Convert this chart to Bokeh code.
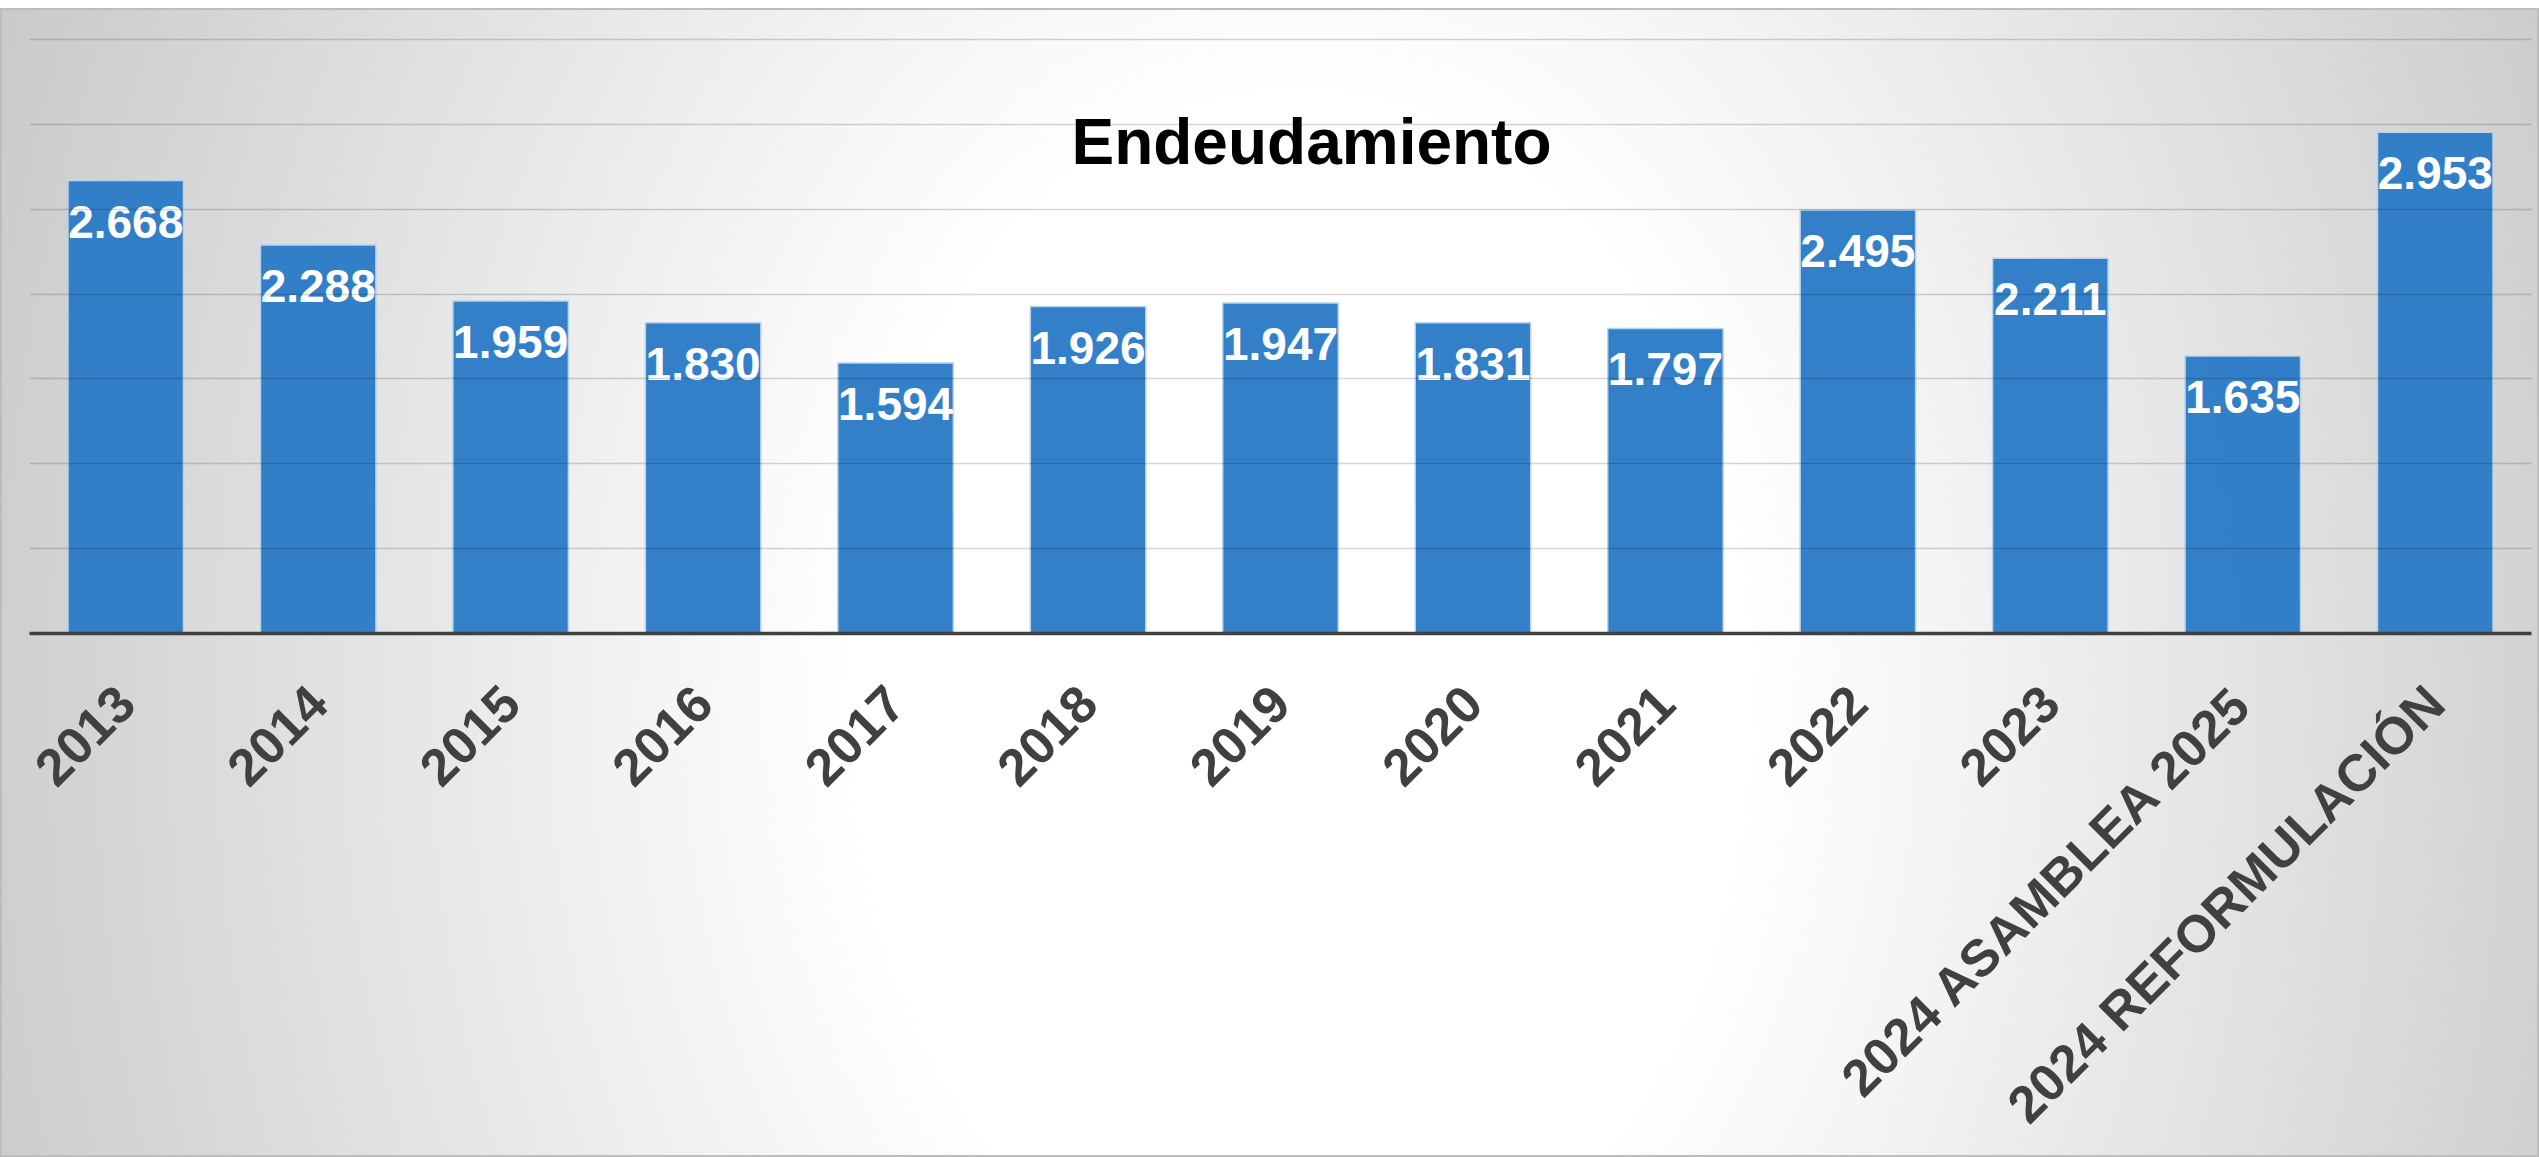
import math
from bokeh.plotting import figure
from bokeh.models import Range1d, Grid, FixedTicker, ColumnDataSource
from bokeh.core.properties import value
from bokeh.embed import file_html
from bokeh.resources import INLINE

# ---- data ----
categories = ["2013", "2014", "2015", "2016", "2017", "2018", "2019", "2020",
              "2021", "2022", "2023", "2024 ASAMBLEA 2025", "2024 REFORMULACIÓN"]
endeudamiento = [2.668, 2.288, 1.959, 1.830, 1.594, 1.926, 1.947, 1.831,
                 1.797, 2.495, 2.211, 1.635, 2.953]
labels = ["{:.3f}".format(v) for v in endeudamiento]
grid_levels = [0.5, 1.0, 1.5, 2.0, 2.5, 3.0, 3.5]
title_text = "Endeudamiento"

FONT = "Liberation Sans"

p = figure(
    x_range=categories,
    y_range=Range1d(0, 3.676),
    width=2539, height=1149,
    output_backend="svg", toolbar_location=None,
    y_axis_location=None,
    min_border_left=29, min_border_right=8,
    min_border_top=1, min_border_bottom=523,
)
p.styles = {
    "position": "absolute",
    "left": "0px",
    "top": "8px",
    "background": "radial-gradient(ellipse 1500px 2000px at 1300px 692px, #ffffff 0%, #ffffff 30%, #c4c4c4 100%)",
    "box-shadow": "inset 0 0 0 2px #bdbdbd",
}
p.border_fill_alpha = 0
p.background_fill_alpha = 0
p.outline_line_color = None
p.title.text = ""

for g in p.xgrid:
    g.visible = False
for g in p.ygrid:
    g.visible = False

src = ColumnDataSource(dict(cat=categories, val=endeudamiento, lab=labels))

bars = p.vbar(x="cat", top="val", width=0.6, source=src,
              fill_color="#2C7CC6", fill_alpha=0.97,
              line_color="#b8d3ee", line_width=1.5, level="underlay")

grid = Grid(dimension=1, ticker=FixedTicker(ticks=grid_levels),
            grid_line_color="black", grid_line_alpha=0.16, grid_line_width=1.5,
            level="glyph")
p.add_layout(grid)

p.text(x="cat", y="val", text="lab", source=src,
       text_color="white", text_font=value(FONT), text_font_style="bold",
       text_font_size="46px", text_align="center", text_baseline="middle",
       y_offset=41)

p.text(x=["2019"], y=[2.894], text=[title_text], x_offset=31,
       text_color="black", text_font=value(FONT), text_font_style="bold",
       text_font_size="64px", text_align="center", text_baseline="middle")

ax = p.xaxis[0]
ax.axis_line_color = "#404040"
ax.axis_line_width = 3.5
ax.major_tick_line_color = None
ax.minor_tick_line_color = None
ax.major_tick_out = 0
ax.major_tick_in = 0
ax.major_label_orientation = math.pi / 4
ax.major_label_standoff = 61
ax.major_label_text_font = FONT
ax.major_label_text_font_style = "bold"
ax.major_label_text_font_size = "52px"
ax.major_label_text_color = "#404040"

open("out.html", "w").write(file_html(p, INLINE))
